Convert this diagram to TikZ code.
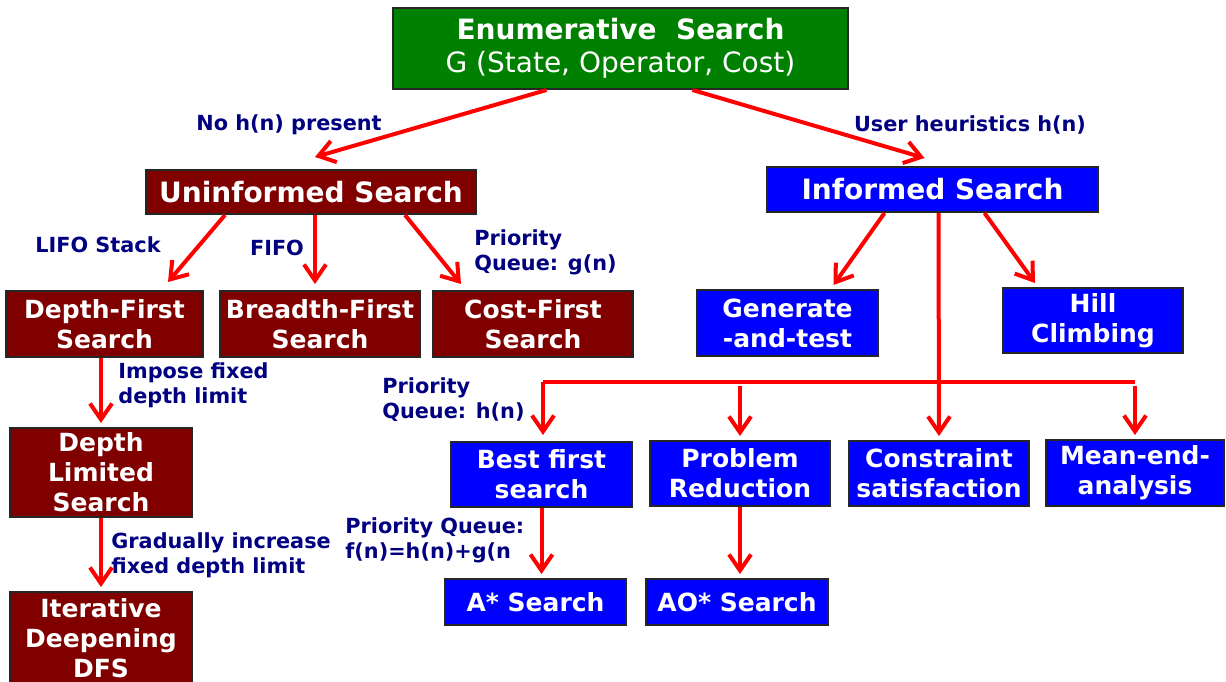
\documentclass[tikz,border=0pt]{standalone}
\usepackage{fontspec}
\setmainfont{DejaVu Sans}
\usetikzlibrary{arrows.meta}

\definecolor{enumgreen}{RGB}{0,128,0}
\definecolor{uninred}{RGB}{128,0,0}
\definecolor{infblue}{RGB}{0,0,255}
\definecolor{lblnavy}{RGB}{0,0,128}

\tikzset{
  box/.style={draw=black!85, line width=1pt, text=white, align=center, inner sep=0pt,
    font=\fontsize{12.5}{15}\selectfont\bfseries},
  ubox/.style={box, fill=uninred},
  ibox/.style={box, fill=infblue},
  head/.style={font=\fontsize{14}{16.5}\selectfont\bfseries},
  lbl/.style={text=lblnavy, align=left, inner sep=0pt,
    font=\fontsize{10.4}{12.5}\selectfont\bfseries},
  arr/.style={draw=red, line width=2pt, -{Straight Barb[length=8pt,width=11pt]}},
  bus/.style={draw=red, line width=2pt},
}

\begin{document}
\begin{tikzpicture}[x=0.5pt, y=-0.5pt]
  \useasboundingbox (0,0) rectangle (1226,681);
  \clip (0,0) rectangle (1226,681);

  % boxes
  \node[box, head, fill=enumgreen, minimum width=227.5pt, minimum height=40.5pt] (enum) at (620.5,48.5)
    {Enumerative\ \ Search\\{\mdseries G (State, Operator, Cost)}};
  \node[ubox, head, minimum width=165pt, minimum height=22pt] (unin) at (311,192) {Uninformed Search};
  \node[ibox, head, minimum width=165.5pt, minimum height=22.5pt] (inf) at (932.5,189.5) {Informed Search};

  \node[ubox, minimum width=98.5pt, minimum height=33pt] (dfs) at (104.5,324) {Depth-First\\Search};
  \node[ubox, minimum width=100pt, minimum height=33pt] (bfs) at (320,324) {Breadth-First\\Search};
  \node[ubox, minimum width=100pt, minimum height=33pt] (cfs) at (533,324) {Cost-First\\Search};
  \node[ubox, minimum width=91pt, minimum height=44.5pt] (dls) at (101,472.5) {Depth\\Limited\\Search};
  \node[ubox, minimum width=91pt, minimum height=46pt] (ids) at (101,638) {Iterative\\Deepening\\DFS};

  \node[ibox, minimum width=90.5pt, minimum height=33pt] (gen) at (787.5,323) {Generate\\-and-test};
  \node[ibox, minimum width=90pt, minimum height=32.5pt] (hill) at (1093,320.5) {Hill\\Climbing};
  \node[ibox, minimum width=90.5pt, minimum height=32.5pt] (best) at (541.5,474.5) {Best first\\search};
  \node[ibox, minimum width=90pt, minimum height=32.5pt] (prob) at (740,473.5) {Problem\\Reduction};
  \node[ibox, minimum width=90pt, minimum height=32.5pt] (cons) at (939,473.5) {Constraint\\satisfaction};
  \node[ibox, minimum width=89pt, minimum height=33pt] (mean) at (1135,473) {Mean-end-\\analysis};
  \node[ibox, minimum width=90.5pt, minimum height=23pt] (astar) at (535.5,602) {A* Search};
  \node[ibox, minimum width=91pt, minimum height=23pt] (aostar) at (737,602) {AO* Search};

  % connectors
  \draw[arr] ([xshift=-37pt]enum.south) -- ([xshift=2pt,yshift=6pt]unin.north);
  \draw[arr] ([xshift=36pt]enum.south) -- ([xshift=-4pt,yshift=4pt]inf.north);

  \draw[arr] ([xshift=-43pt]unin.south) -- ([xshift=31.75pt,yshift=4pt]dfs.north);
  \draw[arr] ([xshift=2pt]unin.south) -- ([xshift=-2.5pt,yshift=3pt]bfs.north);
  \draw[arr] ([xshift=47pt]unin.south) -- ([xshift=-36pt,yshift=3pt]cfs.north);
  \draw[arr] (dfs.south -| dls.north) -- ([yshift=2pt]dls.north);
  \draw[arr] (dls.south) -- ([yshift=2pt]ids.north);

  \draw[arr] ([xshift=-24pt]inf.south) -- ([xshift=23pt,yshift=2pt]gen.north);
  \draw[arr] ([xshift=26pt]inf.south) -- ([xshift=-29pt,yshift=2pt]hill.north);

  \coordinate (busL) at (543,382);
  \coordinate (busR) at (1135,382);
  \draw[bus] (busL) -- (busR);
  \draw[arr] ([xshift=3pt]inf.south) -- ([yshift=2pt]cons.north);
  \draw[arr] (busL) -- ([yshift=3pt]busL |- best.north);
  \draw[arr] ([yshift=-2pt]prob.north |- busL) -- ([yshift=2pt]prob.north);
  \draw[arr] ([yshift=-2pt]busR) -- ([yshift=2pt]busR |- mean.north);

  \draw[arr] (best.south) -- ([yshift=2pt]best.south |- astar.north);
  \draw[arr] (prob.south) -- ([yshift=2pt]prob.south |- aostar.north);

  % labels
  \node[lbl] (lnoh) at (289,125) {No h(n) present};
  \node[lbl] (luser) at (970,125) {User heuristics h(n)};
  \node[lbl] (llifo) at (98,245) {LIFO Stack};
  \node[lbl] (lfifo) at (277,248) {FIFO};
  \node[lbl, anchor=west] (lpqg) at (474,252) {Priority\\Queue: g(n)};
  \node[lbl, anchor=west] (limpose) at (118,385) {Impose fixed\\depth limit};
  \node[lbl, anchor=west] (lpqh) at (382,400) {Priority\\Queue: h(n)};
  \node[lbl, anchor=west] (lgrad) at (111,555) {Gradually increase\\fixed depth limit};
  \node[lbl, anchor=west] (lpqf) at (345,540) {Priority Queue:\\f(n)=h(n)+g(n};
\end{tikzpicture}
\end{document}
